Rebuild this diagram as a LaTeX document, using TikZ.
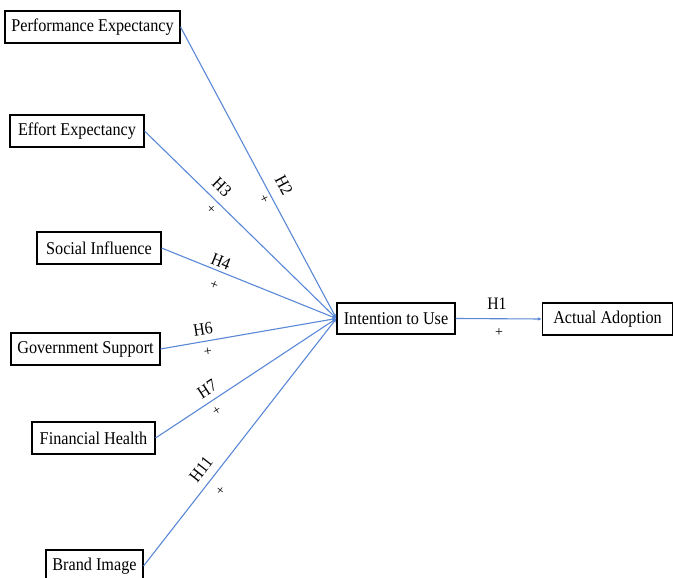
\documentclass[tikz,border=0pt]{standalone}
\usepackage{fontspec}
\setmainfont{Liberation Serif}
\newfontfamily\boxfont[FakeStretch=0.9]{Liberation Serif}
\usetikzlibrary{arrows.meta}
\definecolor{linkblue}{HTML}{5A88D6}
\begin{document}
\begin{tikzpicture}[x=1pt,y=-1pt,
  box/.style={draw=black, line width=1.1pt, inner sep=0pt, minimum height=32pt, font=\boxfont\fontsize{18}{20}\selectfont, fill=white},
  lab/.style={inner sep=0pt, font=\boxfont\fontsize{17.5}{19}\selectfont},
  plus/.style={inner sep=0pt, font=\fontsize{14}{16}\selectfont},
  link/.style={draw=linkblue, line width=1.1pt, -{Latex[length=4pt,width=3.5pt]}}]
\useasboundingbox (0,0) rectangle (673,578);
\node[box, minimum width=175pt] (pe) at (92.5,27) {Performance Expectancy};
\node[box, minimum width=134pt] (ee) at (77,131) {Effort Expectancy};
\node[box, minimum width=124pt] (si) at (99,248) {Social Influence};
\node[box, minimum width=149pt] (gs) at (85.5,349) {Government Support};
\node[box, minimum width=123pt] (fh) at (93.5,438) {Financial Health};
\node[box, minimum width=97pt] (bi) at (94.5,566) {Brand Image};
\node[box, minimum width=118pt, minimum height=31pt] (iu) at (396,318.5) {Intention to Use};
\node[box, minimum width=130pt] (aa) at (607.5,319) {Actual Adoption};
\coordinate (c) at (iu.west);
\draw[link] (pe.east) -- (c);
\draw[link] (ee.east) -- (c);
\draw[link] (si.east) -- (c);
\draw[link] (gs.east) -- (c);
\draw[link] (fh.east) -- (c);
\draw[link] (bi.east) -- (c);
\draw[link] (iu.east) -- (aa.west);
\node[lab, rotate=-62] (h2) at (284,185) {H2};
\node[plus, rotate=-62] (p2) at (264,199) {+};
\node[lab, rotate=-44.5] (h3) at (222,187) {H3};
\node[plus, rotate=-44.5] (p3) at (211,209) {+};
\node[lab, rotate=-22] (h4) at (221,262) {H4};
\node[plus, rotate=-22] (p4) at (214,285) {+};
\node[lab, rotate=9] (h6) at (203,329) {H6};
\node[plus, rotate=9] (p6) at (208,352) {+};
\node[lab, rotate=33] (h7) at (207,389) {H7};
\node[plus, rotate=33] (p7) at (217,411) {+};
\node[lab, rotate=52] (h11) at (201,469) {H11};
\node[plus, rotate=52] (p11) at (221,491) {+};
\node[lab] (h1) at (497,304) {H1};
\node[plus] (p1) at (499,333) {+};
\end{tikzpicture}
\end{document}
